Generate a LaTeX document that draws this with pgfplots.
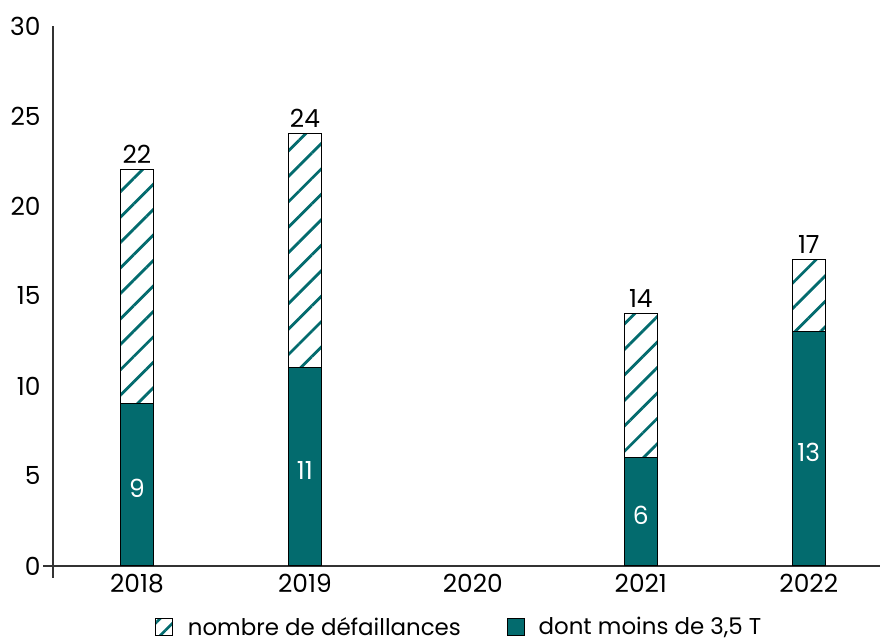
\documentclass[border=0pt]{standalone}
\usepackage{pgfplots}
\pgfplotsset{compat=1.18}
\usepackage{pgfplotstable}
\usepackage{fontspec}
\setmainfont{Poppins}
\usetikzlibrary{patterns.meta}
\definecolor{teal1}{HTML}{036B6E}
\pgfplotstableread{
x total low
0 22 9
1 24 11
3 14 6
4 17 13
}\datatable
\newcommand{\lblfont}{\fontsize{23}{26}\selectfont}
\newcommand{\tckfont}{\fontsize{25}{28}\selectfont}
\begin{document}
\begin{tikzpicture}[x=1bp,y=1bp]
\path[use as bounding box] (-53,-77) rectangle (827,566);
\begin{axis}[
  at={(0,0)}, anchor=south west,
  scale only axis, width=828bp, height=540bp,
  xmin=-0.5, xmax=4.43, ymin=0, ymax=30,
  axis x line*=bottom, axis y line*=left,
  xtick={0,...,4}, xticklabels={2018,2019,2020,2021,2022},
  ytick={0,5,...,30},
  major tick length=0pt,
  yticklabel style={font=\tckfont, xshift=-9bp},
  xticklabel style={font=\tckfont, yshift=-5bp},
  /pgf/number format/assume math mode=true,
  axis line style={draw=black!80, line width=1.2bp},
  clip=false,
  legend columns=2,
  legend style={draw=none, fill=none, inner sep=0pt, at={(0.49,-0.113)}, anchor=center,
    font=\lblfont, /tikz/every even column/.append style={column sep=44bp}},
  legend image code/.code={\draw[#1] (0bp,-8bp) rectangle (17bp,9bp); \path (29bp,0bp);},
]
\addlegendimage{draw=black, line width=0.8bp, pattern={Lines[angle=45, distance=12bp, line width=2.8bp]}, pattern color=teal1}
\addlegendentry{nombre de défaillances}
\addlegendimage{draw=black, line width=0.8bp, fill=teal1}
\addlegendentry{dont moins de 3,5 T}
\addplot[ybar, bar width=33bp, bar shift=0pt, draw=black, line width=1bp,
  pattern={Lines[angle=45, distance=18bp, line width=2.8bp]}, pattern color=teal1,
  nodes near coords, point meta=explicit,
  every node near coord/.append style={font=\tckfont, text=black, yshift=2.5bp},
  forget plot] table[x=x, y=total, meta=total] {\datatable};
\addplot[ybar, bar width=33bp, bar shift=0pt, draw=black, line width=1bp, fill=teal1, forget plot]
  table[x=x, y=low] {\datatable};
\addplot[draw=none, mark=none, nodes near coords, point meta=explicit,
  every node near coord/.append style={font=\tckfont, text=white, anchor=center, yshift=-3bp},
  forget plot] table[x=x, y expr=\thisrow{low}/2, meta=low] {\datatable};
\draw[draw=black!80, line width=1.2bp] (axis cs:-0.5,0) -- ([yshift=-12bp]axis cs:-0.5,0);
\draw[draw=black!80, line width=1.2bp] (axis cs:-0.5,0) -- ([xshift=-10bp]axis cs:-0.5,0);
\end{axis}
\end{tikzpicture}
\end{document}
